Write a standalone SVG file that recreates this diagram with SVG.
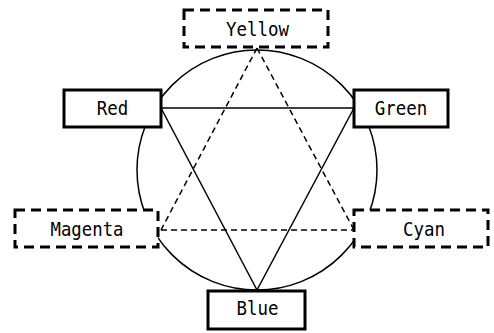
<svg xmlns="http://www.w3.org/2000/svg" width="494" height="333" viewBox="0 0 494 333">
<style>
.box{fill:#fff;stroke:#000;stroke-width:3}
.dbox{fill:#fff;stroke:#000;stroke-width:3;stroke-dasharray:10 6}
.ln{fill:none;stroke:#000;stroke-width:1.5}
.dl{fill:none;stroke:#000;stroke-width:1.5;stroke-dasharray:6 4}
text{font-family:"DejaVu Sans Mono","Liberation Mono",monospace;font-size:19px;text-anchor:middle;fill:#000}
</style>
<rect width="494" height="333" fill="#fff"/>
<g id="connectors">
<circle class="ln" cx="257" cy="170" r="120"/>
<line class="ln" x1="161" y1="108" x2="354" y2="108"/>
<line class="ln" x1="161" y1="108" x2="257" y2="290"/>
<line class="ln" x1="354" y1="108" x2="257" y2="290"/>
<line class="dl" x1="257" y1="48" x2="161" y2="230"/>
<line class="dl" x1="257" y1="48" x2="354" y2="230"/>
<line class="dl" x1="161" y1="230" x2="354" y2="230"/>
</g>
<g id="yellow"><rect class="dbox" x="184" y="10" width="144" height="37"/><text x="257.5" y="36" textLength="63" lengthAdjust="spacingAndGlyphs">Yellow</text></g>
<g id="red"><rect class="box" x="64" y="90" width="97" height="37"/><text x="112.5" y="115" textLength="31.5" lengthAdjust="spacingAndGlyphs">Red</text></g>
<g id="green"><rect class="box" x="354" y="90" width="94" height="37"/><text x="401" y="115" textLength="52.5" lengthAdjust="spacingAndGlyphs">Green</text></g>
<g id="magenta"><rect class="dbox" x="15" y="210" width="143" height="37"/><text x="87" y="236" textLength="73" lengthAdjust="spacingAndGlyphs">Magenta</text></g>
<g id="cyan"><rect class="dbox" x="354" y="210" width="134" height="37"/><text x="424" y="236" textLength="42" lengthAdjust="spacingAndGlyphs">Cyan</text></g>
<g id="blue"><rect class="box" x="208" y="291" width="97" height="38"/><text x="257.5" y="315" textLength="42" lengthAdjust="spacingAndGlyphs">Blue</text></g>
</svg>
